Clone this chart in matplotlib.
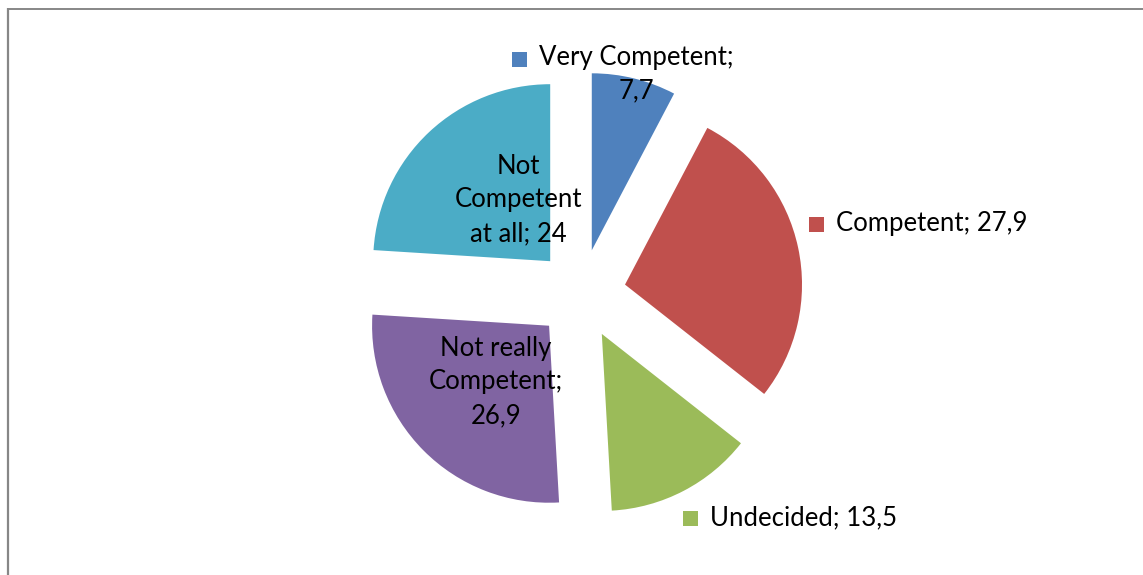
import matplotlib
matplotlib.use('Agg')
import matplotlib.pyplot as plt
import matplotlib.patches as mpatches

plt.rcParams['font.family'] = ['Lato', 'DejaVu Sans']

# Datos de la encuesta
categorias = ['Very Competent', 'Competent', 'Undecided', 'Not really Competent', 'Not Competent at all']
valores = [7.7, 27.9, 13.5, 26.9, 24]
colores = ['#4F81BD', '#C0504D', '#9BBB59', '#8064A2', '#4BACC6']

# Cortes de línea de cada etiqueta
cortes = ['{n};\n{v}', '{n}; {v}', '{n}; {v}', 'Not really\nCompetent;\n{v}', 'Not\nCompetent\nat all; {v}']

# Posiciones de etiquetas (px, y hacia arriba) y si llevan cuadro de leyenda
pos_etiquetas = [(636, 501), (932, 351), (804, 57), (496, 193), (518, 375)]
con_cuadro = [True, True, True, False, False]

W, H = 1143, 575
FS = 18.5
fig = plt.figure(figsize=(W / 100, H / 100), dpi=100)
ax = fig.add_axes([0, 0, 1, 1])

centro = (581, H - 294)
radio = 177
wedges, _ = ax.pie(valores, colors=colores, startangle=90, counterclock=False,
                   explode=[45] * len(valores), radius=radio, center=centro,
                   frame=True, wedgeprops={'linewidth': 0})
ax.set_xlim(0, W)
ax.set_ylim(0, H)
ax.set_aspect('equal')
ax.axis('off')

def fmt(v):
    return f'{v:g}'.replace('.', ',')

fig.canvas.draw()
rend = fig.canvas.get_renderer()
for i, (n, v) in enumerate(zip(categorias, valores)):
    texto = cortes[i].format(n=n, v=fmt(v))
    x, y = pos_etiquetas[i]
    t = ax.text(x, y, texto, ha='center', va='center', fontsize=FS,
                linespacing=1.42, color='black')
    if con_cuadro[i]:
        bb = t.get_window_extent(rend)
        primera = texto.split('\n')[0]
        tmp = ax.text(0, 0, primera, fontsize=FS)
        ancho = tmp.get_window_extent(rend).width
        tmp.remove()
        lineas = texto.count('\n') + 1
        alto_linea = bb.height / lineas
        x0 = x - ancho / 2
        yc = bb.y1 - alto_linea / 2
        ax.add_patch(mpatches.Rectangle((x0 - 27, yc - 7.5), 15, 15,
                                        color=colores[i], lw=0))

# Borde del área del gráfico
ax.plot([7.5, 7.5], [0, H - 8], color='#878787', lw=1.6, solid_capstyle='butt')
ax.plot([7, W], [H - 8.5, H - 8.5], color='#878787', lw=1.4, solid_capstyle='butt')

fig.savefig('out.png', dpi=100)
